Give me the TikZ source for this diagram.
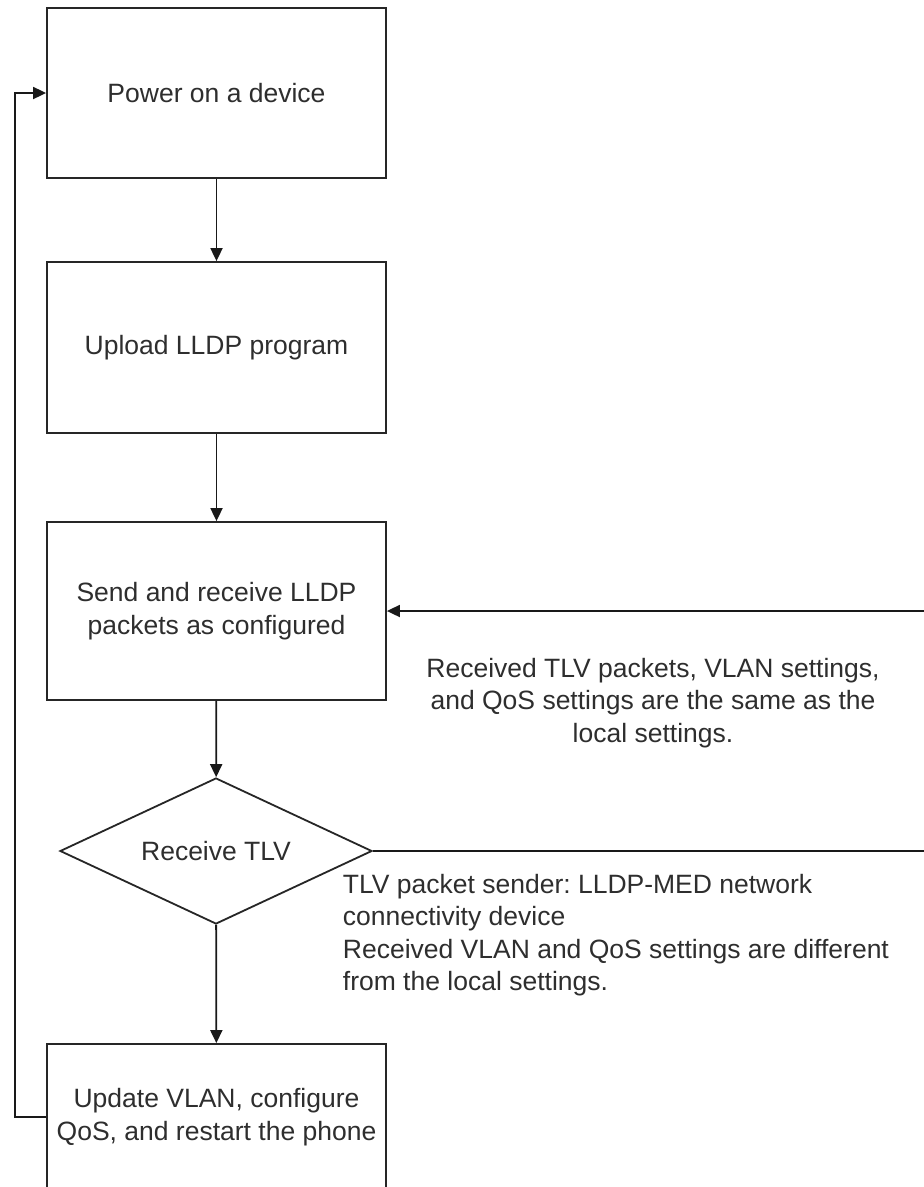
\documentclass[tikz,border=0pt]{standalone}
\usepackage{fontspec}
\setmainfont{Liberation Sans}
\usetikzlibrary{shapes.geometric,arrows.meta}
\begin{document}
\frenchspacing
\begin{tikzpicture}[x=1pt,y=-1pt,
  line width=1.8pt,
  every node/.style={font=\fontsize{26.5}{32.5}\selectfont, text=black!82},
  stepbox/.style={draw=black!85, minimum width=339pt, inner sep=0pt, align=center},
  decision/.style={draw=black!85, diamond, aspect=2.14, minimum width=312pt, minimum height=146pt, inner sep=0pt},
  flow/.style={draw=black!90, -{Triangle[length=13pt,width=12pt]}},
  note/.style={inner sep=0pt}]
  \clip (0,0) rectangle (924,1187);
  \fill[white] (0,0) rectangle (924,1187);

  % process steps
  \node[stepbox, minimum height=170pt] (power) at (216.5,93) {Power on a device};
  \node[stepbox, minimum height=171pt] (upload) at (216.5,347.5) {Upload LLDP program};
  \node[stepbox, minimum height=178pt] (send) at (216.5,611) {Send and receive LLDP\\packets as configured};
  \node[decision] (tlv) at (216,851) {Receive TLV};
  \node[stepbox, minimum height=146pt] (update) at (216.5,1117) {Update VLAN, configure\\QoS, and restart the phone};

  % return path on the right runs past the page edge
  \coordinate (rb) at (940,851);
  \coordinate (rt) at (940,611);
  % return path on the left
  \coordinate (lb) at (15,1117);
  \coordinate (lt) at (15,93);

  % connectors
  \draw[flow] (power) -- (upload);
  \draw[flow] (upload) -- (send);
  \draw[flow] (send) -- (tlv);
  \draw[flow] (tlv) -- (update);
  \draw[flow] (tlv.east) -- (rb) -- (rt) -- (send.east);
  \draw[flow] (update.west) -- (lb) -- (lt) -- (power.west);

  % branch conditions
  \node[note, align=center] (same) at (653,703)
    {Received TLV packets, VLAN settings,\\and QoS settings are the same as the\\local settings.};
  \node[note, align=left, anchor=west] (diff) at (342,935)
    {TLV packet sender: LLDP-MED network\\connectivity device\\Received VLAN and QoS settings are different\\from the local settings.};
\end{tikzpicture}
\end{document}
